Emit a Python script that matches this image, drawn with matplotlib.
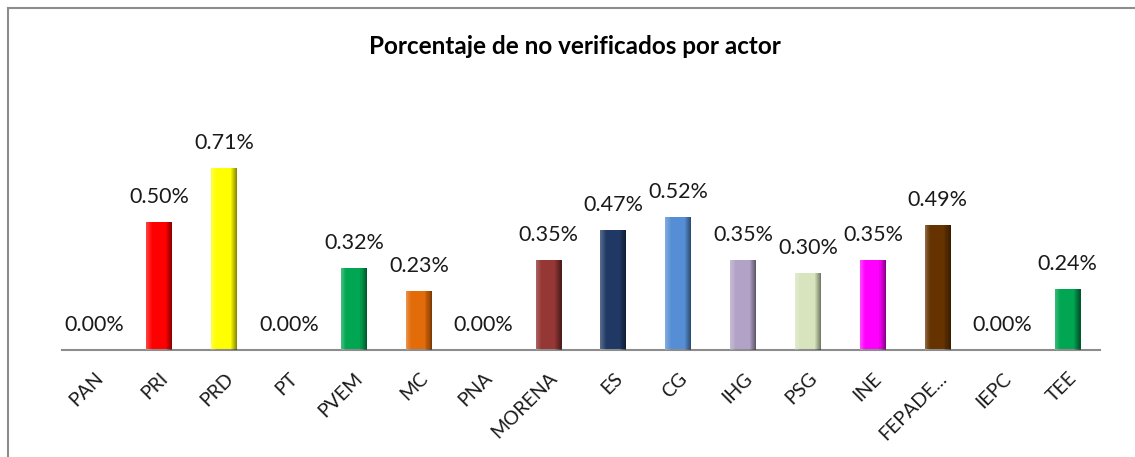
import matplotlib
matplotlib.use("Agg")
import matplotlib.pyplot as plt
from matplotlib.lines import Line2D
import numpy as np

# data
actors = ["PAN", "PRI", "PRD", "PT", "PVEM", "MC", "PNA", "MORENA",
          "ES", "CG", "IHG", "PSG", "INE", "FEPADE...", "IEPC", "TEE"]
values = [0.00, 0.50, 0.71, 0.00, 0.32, 0.23, 0.00, 0.35,
          0.47, 0.52, 0.35, 0.30, 0.35, 0.49, 0.00, 0.24]
colors = ["#4F81BD", "#FF0000", "#FFFF00", "#4F81BD", "#00A651", "#E36C0A",
          "#4F81BD", "#953735", "#1F3864", "#558ED5", "#B3A2C7", "#D7E4BD",
          "#FF00FF", "#663300", "#4F81BD", "#00A651"]

plt.rcParams['font.family'] = ['Lato', 'DejaVu Sans']

W, H = 1135, 457
fig = plt.figure(figsize=(W / 100, H / 100), dpi=100)

# plot area in pixel coords: axis line at y=350, x from 62 to 1100
ax = fig.add_axes([62 / W, (H - 350) / H, 1038 / W, 0.8 * 256 / H])
ax.set_xlim(-0.5, len(actors) - 0.5)
ax.set_ylim(0, 0.8)

x = np.arange(len(actors))
width = 0.4
ax.bar(x, values, width=width, color=colors, zorder=2)

# fake bevel: dark strip on the right, light strip on the left
for i, v in enumerate(values):
    if v <= 0:
        continue
    for k in range(6):
        f = k / 6
        ax.bar(x[i] + width / 2 - (k + 0.5) * width / 24, v, width=width / 24,
               color="black", alpha=0.45 * (1 - f), linewidth=0, zorder=3)
        ax.bar(x[i] - width / 2 + (k + 0.5) * width / 30, v, width=width / 30,
               color="white", alpha=0.25 * (1 - f), linewidth=0, zorder=3)

for i, v in enumerate(values):
    ax.annotate("%.2f%%" % v, (x[i], v), xytext=(0, 18), textcoords="offset points",
                ha="center", va="center", fontsize=15.5, color="#1a1a1a",
                annotation_clip=False)

for s in ["top", "right", "left"]:
    ax.spines[s].set_visible(False)
ax.spines["bottom"].set_color("#8c8c8c")
ax.spines["bottom"].set_linewidth(1.5)
ax.set_yticks([])
ax.set_xticks(x)
ax.set_xticklabels(actors, rotation=45, ha="right", rotation_mode="anchor",
                   fontsize=14, color="#1a1a1a")
ax.tick_params(axis="x", length=0, pad=14)

fig.text(575 / W, 1 - 47 / H, "Porcentaje de no verificados por actor",
         ha="center", va="center", fontsize=17.5, fontweight="bold", color="black")

# chart border (top and left edges visible)
fig.add_artist(Line2D([8 / W, 1], [1 - 8 / H, 1 - 8 / H], color="#8c8c8c", lw=1.5))
fig.add_artist(Line2D([8 / W, 8 / W], [1 - 8 / H, 0], color="#8c8c8c", lw=1.5))

fig.savefig("out.png", dpi=100)
